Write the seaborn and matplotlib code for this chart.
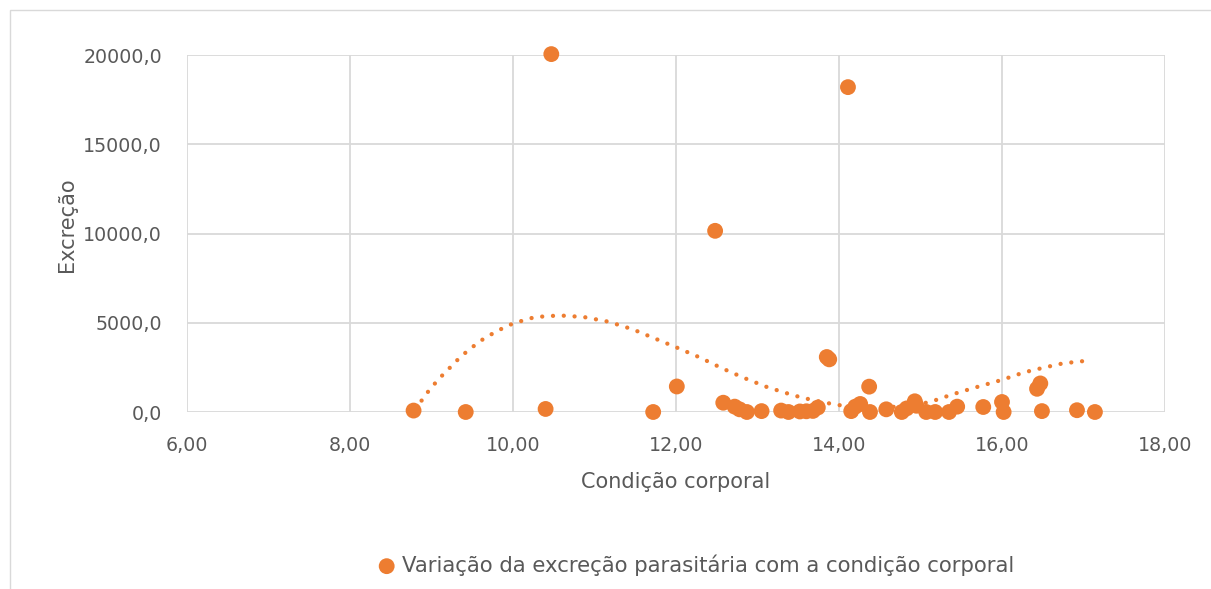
import numpy as np
import pandas as pd
import matplotlib
matplotlib.use("Agg")
import matplotlib.pyplot as plt
import seaborn as sns
from matplotlib.patches import Rectangle

# body condition vs parasite excretion
condicao = [8.78, 9.42, 10.40, 10.47, 11.72, 12.01, 12.48, 12.58, 12.72, 12.78,
            12.87, 13.05, 13.29, 13.38, 13.52, 13.60, 13.68, 13.74, 13.85, 13.88,
            14.11, 14.15, 14.20, 14.26, 14.37, 14.38, 14.58, 14.77, 14.83, 14.93,
            14.95, 15.07, 15.18, 15.35, 15.45, 15.77, 16.00, 16.02, 16.43, 16.47,
            16.49, 16.92, 17.14]
excrecao = [80, 0, 170, 20050, 0, 1430, 10150, 520, 300, 150,
            0, 50, 80, 0, 30, 40, 60, 250, 3080, 2950,
            18200, 50, 300, 450, 1420, 0, 150, 0, 200, 600,
            350, 0, 0, 0, 300, 280, 560, 0, 1300, 1600,
            50, 100, 0]

# Excel polynomial trendline
trend_x = [8.80, 8.96, 9.09, 9.17, 9.31, 9.45, 9.62, 9.80, 10.00, 10.27,
           10.57, 10.87, 11.17, 11.47, 11.74, 12.02, 12.29, 12.56, 12.84, 13.11,
           13.33, 13.54, 13.82, 14.01, 14.30, 14.55, 14.80, 15.00, 15.13, 15.40,
           15.67, 16.00, 16.27, 16.49, 16.71, 16.92, 17.08]
trend_y = [150, 1150, 1860, 2220, 2880, 3460, 4040, 4530, 4960, 5320,
           5410, 5320, 5060, 4630, 4120, 3590, 3060, 2460, 1900, 1410,
           1090, 810, 530, 380, 290, 250, 330, 450, 580, 1000,
           1370, 1800, 2220, 2460, 2690, 2820, 2880]

x_ticks = [6, 8, 10, 12, 14, 16, 18]
y_ticks = [0, 5000, 10000, 15000, 20000]
legend_label = "Variação da excreção parasitária com a condição corporal"

df = pd.DataFrame({"Condição corporal": condicao, "Excreção": excrecao})
orange = "#ED7D31"
grey_txt = "#595959"

sns.set_style("white")
plt.rcParams['font.family'] = ['DejaVu Sans']

fig = plt.figure(figsize=(12.11, 5.89), dpi=100)
ax = fig.add_axes([187/1211, 1 - 412/589, (1165-187)/1211, (412-55)/589])

sns.scatterplot(data=df, x="Condição corporal", y="Excreção", ax=ax,
                color=orange, s=130, edgecolor="none", zorder=3, clip_on=False,
                label=legend_label)
sns.lineplot(x=trend_x, y=trend_y, ax=ax, color=orange, lw=3.1, sort=False,
             dashes=False, zorder=2)
ax.lines[-1].set_linestyle((0, (0.01, 2.5)))
ax.lines[-1].set_dash_capstyle("round")

ax.set_xlim(6, 18)
ax.set_ylim(0, 20000)
ax.set_xticks(x_ticks)
ax.set_yticks(y_ticks)
ax.set_xticklabels([f"{t:.2f}".replace(".", ",") for t in x_ticks])
ax.set_yticklabels([f"{t:.1f}".replace(".", ",") for t in y_ticks])
ax.grid(True, color="#D9D9D9", lw=1.3)
for s in ax.spines.values():
    s.set_visible(False)
ax.tick_params(length=0, labelsize=13.7, colors=grey_txt)
ax.tick_params(axis="x", pad=17)
ax.tick_params(axis="y", pad=18)
ax.set_xlabel("Condição corporal", fontsize=15, color=grey_txt)
ax.set_ylabel("Excreção", fontsize=15, color=grey_txt)
ax.xaxis.set_label_coords(0.5, -0.168)
ax.yaxis.set_label_coords(-0.112, 0.524)

ax.legend(loc="center", bbox_to_anchor=(696/1211, 1 - 565/589),
          bbox_transform=fig.transFigure, frameon=False, fontsize=15.3,
          handlelength=0.8, handletextpad=0.3, labelcolor=grey_txt)

fig.patches.append(Rectangle((10/1211, -0.1), 1.2, 1 - 10/589 + 0.1,
                             transform=fig.transFigure, fill=False,
                             edgecolor="#D9D9D9", lw=1))

fig.savefig("out.png", dpi=100)
